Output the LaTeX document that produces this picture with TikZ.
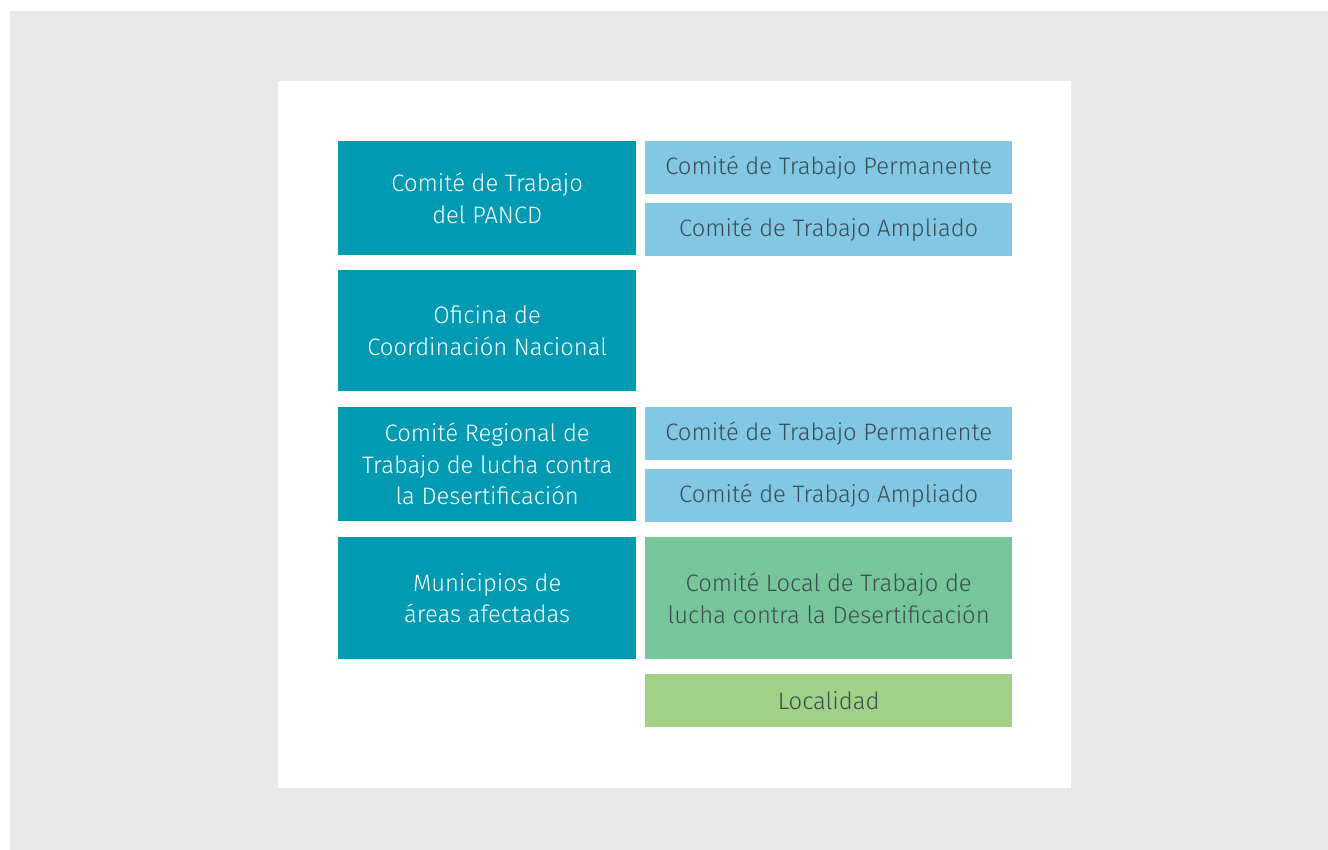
\documentclass[tikz,border=0pt]{standalone}
\usepackage{fontspec}
\setmainfont{Fira Sans Light}
\definecolor{bggray}{HTML}{E8E8E8}
\definecolor{teal}{HTML}{009AB3}
\definecolor{lblue}{HTML}{80C8E4}
\definecolor{mgreen}{HTML}{75C799}
\definecolor{lgreen}{HTML}{A0D187}
\definecolor{txtgray}{HTML}{3F4A50}
\begin{document}
\begin{tikzpicture}[x=1pt,y=-1pt,
  box/.style={anchor=north west,inner sep=0pt,align=center,font=\fontsize{23.8}{31.5}\selectfont},
  mainbox/.style={box,fill=teal,text=white,minimum width=298pt},
  subbox/.style={box,fill=lblue,text=txtgray,minimum width=367pt,minimum height=53pt},
]
\useasboundingbox (0,0) rectangle (1328,850);
\fill[bggray] (10,11) rectangle (1328,850);
\fill[white] (278,81) rectangle (1071,788);
\node[mainbox,minimum height=114pt] (pancd) at (338,141) {Comité de Trabajo\\del PANCD};
\node[subbox] (perm1) at (645,141) {Comité de Trabajo Permanente};
\node[subbox] (ampl1) at (645,203) {Comité de Trabajo Ampliado};
\node[mainbox,minimum height=121pt] (ofic) at (338,270) {Oficina de\\Coordinación Nacional};
\node[mainbox,minimum height=114pt] (reg) at (338,407) {Comité Regional de\\Trabajo de lucha contra\\la Desertificación};
\node[subbox] (perm2) at (645,407) {Comité de Trabajo Permanente};
\node[subbox] (ampl2) at (645,469) {Comité de Trabajo Ampliado};
\node[mainbox,minimum height=122pt] (mun) at (338,537) {Municipios de\\áreas afectadas};
\node[box,fill=mgreen,text=txtgray,minimum width=367pt,minimum height=122pt] (local) at (645,537) {Comité Local de Trabajo de\\lucha contra la Desertificación};
\node[box,fill=lgreen,text=txtgray,minimum width=367pt,minimum height=53pt] (loc) at (645,674) {Localidad};
\end{tikzpicture}
\end{document}
